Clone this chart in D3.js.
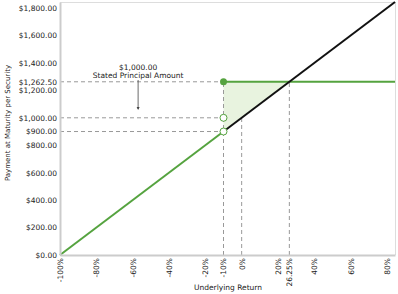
<!DOCTYPE html>
<html>
<head>
<meta charset="utf-8">
<script src="https://cdn.jsdelivr.net/npm/d3@7"></script>
<style>
  body { margin: 0; background: #fff; }
  text { font-family: "DejaVu Sans", Verdana, sans-serif; fill: #222; }
</style>
</head>
<body>
<svg id="chart" width="398" height="294"></svg>
<script>
const svg = d3.select("#chart");

// data
const capLevel = 1262.5;
const principal = 1000;
const threshold = 900;
const upsideCross = 26.25;
const greenPath = [[-100, 0], [-10, 900]];
const blackPath = [[-10, 900], [84.4, 1844]];
const capPath = [[-10, 1262.5], [84.4, 1262.5]];
const shadePoly = [[-10, 1262.5], [26.25, 1262.5], [-10, 900]];
const xTicks = [-100, -80, -60, -40, -20, -10, 0, 20, 26.25, 40, 60, 80];
const yTicks = [0, 200, 400, 600, 800, 900, 1000, 1200, 1262.5, 1400, 1600, 1800];

const mLeft = 60, mRight = 395, mTop = 2, mBottom = 255;

const x = d3.scaleLinear().domain([-100, 84.4]).range([mLeft, mRight]);
const y = d3.scaleLinear().domain([0, 1844]).range([mBottom, mTop]);

const green = "#55a33f";

// frame
svg.append("line").attr("x1", mLeft).attr("x2", mRight).attr("y1", mTop + 0.5).attr("y2", mTop + 0.5)
  .attr("stroke", "#ddd");
svg.append("line").attr("x1", mRight + 0.5).attr("x2", mRight + 0.5).attr("y1", mTop).attr("y2", mBottom)
  .attr("stroke", "#ddd");

// shaded region
svg.append("path")
  .attr("d", d3.line().x(d => x(d[0])).y(d => y(d[1]))(shadePoly) + "Z")
  .attr("fill", "#e8f3df");

// dashed guides
const dash = svg.append("g").attr("stroke", "#999").attr("stroke-dasharray", "4,3").attr("stroke-width", 1);
[[capLevel, -10], [principal, -10], [threshold, -10]].forEach(([v, r]) => {
  dash.append("line").attr("x1", mLeft).attr("x2", x(r)).attr("y1", y(v)).attr("y2", y(v));
});
[[-10, capLevel], [0, principal], [upsideCross, capLevel]].forEach(([r, v]) => {
  dash.append("line").attr("x1", x(r)).attr("x2", x(r)).attr("y1", mBottom).attr("y2", y(v));
});

const line = d3.line().x(d => x(d[0])).y(d => y(d[1]));

svg.append("path").attr("d", line(greenPath)).attr("stroke", green).attr("stroke-width", 2).attr("fill", "none");
svg.append("path").attr("d", line(capPath)).attr("stroke", green).attr("stroke-width", 2).attr("fill", "none");
svg.append("path").attr("d", line(blackPath)).attr("stroke", "#111").attr("stroke-width", 2).attr("fill", "none");

// markers
svg.append("circle").attr("cx", x(-10)).attr("cy", y(capLevel)).attr("r", 3.5).attr("fill", green);
[principal, threshold].forEach(v => {
  svg.append("circle").attr("cx", x(-10)).attr("cy", y(v)).attr("r", 3.5)
    .attr("fill", "#fff").attr("stroke", green).attr("stroke-width", 1);
});

// axes
const xAxis = svg.append("g").attr("transform", `translate(0,${mBottom})`)
  .call(d3.axisBottom(x).tickValues(xTicks).tickSize(0).tickFormat(d => d + "%"));
xAxis.select(".domain").attr("stroke", "#ccc").attr("stroke-width", 2);
xAxis.selectAll("text")
  .attr("font-size", 7.5).attr("text-anchor", "end")
  .attr("transform", "rotate(-90)")
  .attr("x", -3).attr("y", 0).attr("dy", "0.32em");

const yAxis = svg.append("g").attr("transform", `translate(${mLeft},0)`)
  .call(d3.axisLeft(y).tickValues(yTicks).tickSize(0).tickPadding(3)
    .tickFormat(d => "$" + d3.format(",.2f")(d)));
yAxis.select(".domain").attr("stroke", "#ccc").attr("stroke-width", 2);
yAxis.selectAll("text").attr("font-size", 7.5);

// axis titles
svg.append("text").attr("x", 228).attr("y", 290).attr("text-anchor", "middle")
  .attr("font-size", 7.5).text("Underlying Return");
svg.append("text").attr("transform", "translate(10,123) rotate(-90)").attr("text-anchor", "middle")
  .attr("font-size", 7).text("Payment at Maturity per Security");

// annotation
const ax = x(-57);
svg.append("text").attr("x", ax).attr("y", 70).attr("text-anchor", "middle").attr("font-size", 7.5).text("$1,000.00");
svg.append("text").attr("x", ax).attr("y", 78).attr("text-anchor", "middle").attr("font-size", 7.5).text("Stated Principal Amount");
svg.append("line").attr("x1", ax).attr("x2", ax).attr("y1", 80).attr("y2", 109).attr("stroke", "#444").attr("stroke-width", 0.8);
svg.append("path").attr("d", `M${ax - 1.5},107 L${ax + 1.5},107 L${ax},110 Z`).attr("fill", "#444");
</script>
</body>
</html>
